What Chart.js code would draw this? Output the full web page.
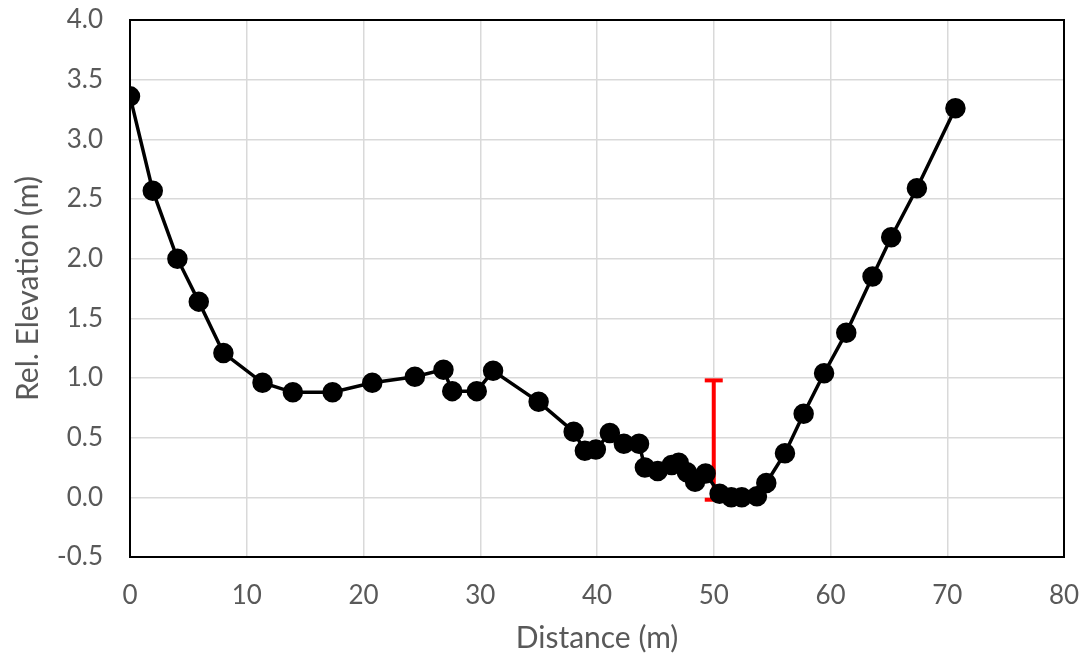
<!DOCTYPE html>
<html>
<head>
<meta charset="utf-8">
<script src="https://cdn.jsdelivr.net/npm/chart.js@4/dist/chart.umd.min.js"></script>
<style>
  html, body { margin: 0; padding: 0; background: #fff; }
  #wrap { width: 1086px; height: 660px; }
</style>
</head>
<body>
<div id="wrap"><canvas id="chart" width="1086" height="660"></canvas></div>
<script>
// survey profile
const distance = [0, 1.95, 4.06, 5.89, 8.0, 11.35, 13.95, 17.35, 20.75, 24.4, 26.85, 27.6, 29.7, 31.1,
  35.0, 38.0, 38.96, 39.9, 41.1, 42.3, 43.6, 44.1, 45.2, 46.4, 47.0, 47.7, 48.4, 49.3, 50.5, 51.5,
  52.4, 53.7, 54.5, 56.1, 57.7, 59.45, 61.35, 63.6, 65.2, 67.4, 70.7];
const elevation = [3.36, 2.57, 2.00, 1.64, 1.21, 0.96, 0.88, 0.88, 0.96, 1.01, 1.07, 0.89, 0.89, 1.06,
  0.80, 0.55, 0.39, 0.40, 0.54, 0.45, 0.45, 0.25, 0.22, 0.27, 0.29, 0.21, 0.13, 0.20, 0.03, 0.00,
  0.00, 0.01, 0.12, 0.37, 0.70, 1.04, 1.38, 1.85, 2.18, 2.59, 3.26];

// red depth bar
const barX = [50, 50];
const barY = [-0.02, 0.98];

const xTicks = [0, 10, 20, 30, 40, 50, 60, 70, 80];
const yTicks = [-0.5, 0, 0.5, 1, 1.5, 2, 2.5, 3, 3.5, 4];

const frame = {
  id: 'frame',
  afterDraw(chart) {
    const { ctx, chartArea: a } = chart;
    ctx.save();
    ctx.strokeStyle = '#000';
    ctx.lineWidth = 2;
    ctx.strokeRect(a.left, a.top, a.right - a.left, a.bottom - a.top);
    ctx.restore();
  },
};

const family = 'Lato, "Open Sans", sans-serif';
const grey = '#595959';

new Chart(document.getElementById('chart'), {
  type: 'scatter',
  data: {
    datasets: [
      {
        data: distance.map((x, i) => ({ x, y: elevation[i] })),
        showLine: true,
        borderColor: '#000',
        backgroundColor: '#000',
        borderWidth: 3.5,
        pointRadius: 8.5,
        pointHoverRadius: 8.5,
      },
      {
        data: barX.map((x, i) => ({ x, y: barY[i] })),
        showLine: true,
        borderColor: '#ff0000',
        borderWidth: 4,
        pointStyle: 'line',
        pointRadius: 9,
        pointHoverRadius: 9,
        pointBorderColor: '#ff0000',
        pointBorderWidth: 4,
      },
    ],
  },
  plugins: [frame],
  options: {
    responsive: false,
    animation: false,
    layout: { autoPadding: false, padding: { top: 20, right: 22, left: 0, bottom: 0 } },
    plugins: { legend: { display: false }, tooltip: { enabled: false } },
    scales: {
      x: {
        type: 'linear',
        min: 0,
        max: 80,
        afterBuildTicks: s => { s.ticks = xTicks.map(v => ({ value: v })); },
        afterFit: s => { s.height = 103; s.paddingLeft = 0; s.paddingRight = 0; },
        grid: { color: '#d9d9d9', lineWidth: 1.5, drawTicks: false },
        border: { display: false },
        ticks: { color: grey, font: { family, size: 26 }, padding: 23, callback: v => v },
        title: { display: true, text: 'Distance (m)', color: grey, font: { family, size: 30 }, padding: { top: 0, bottom: 4 } },
      },
      y: {
        type: 'linear',
        min: -0.5,
        max: 4,
        afterBuildTicks: s => { s.ticks = yTicks.map(v => ({ value: v })); },
        afterFit: s => { s.width = 130; s.paddingTop = 0; s.paddingBottom = 0; },
        grid: { color: '#d9d9d9', lineWidth: 1.5, drawTicks: false },
        border: { display: false },
        ticks: { color: grey, font: { family, size: 26 }, padding: 27, callback: v => v.toFixed(1) },
        title: { display: true, text: 'Rel. Elevation (m)', color: grey, font: { family, size: 30 }, padding: { top: 10, bottom: 4 } },
      },
    },
  },
});
</script>
</body>
</html>
